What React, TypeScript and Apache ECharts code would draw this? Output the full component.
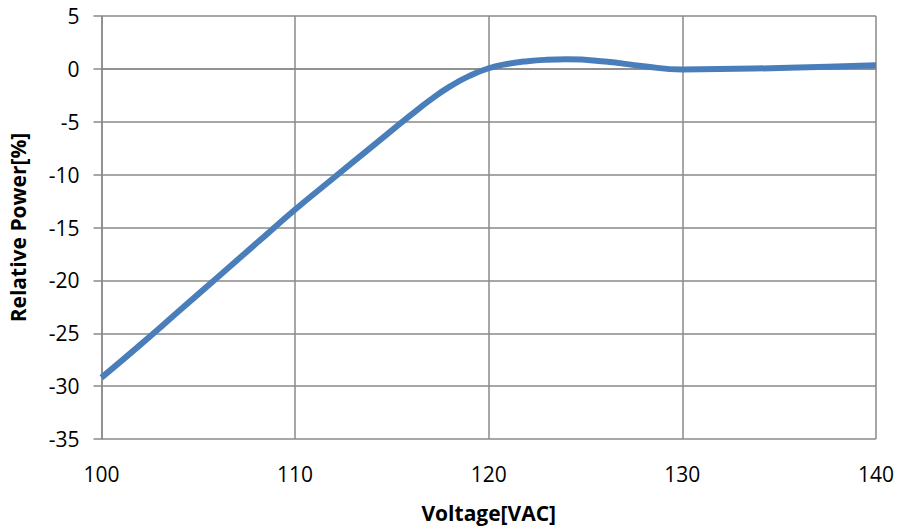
import React, { useEffect, useRef } from "react";
import * as echarts from "echarts";

const voltages = [100, 102, 104, 106, 108, 110, 112, 114, 116, 117, 118, 119, 120, 121, 122, 123, 124, 126, 128, 130, 135, 140];
const relativePower = [-29.2, -26.1, -22.9, -19.7, -16.5, -13.3, -10.3, -7.3, -4.33, -2.91, -1.66, -0.66, 0.06, 0.48, 0.73, 0.86, 0.9, 0.7, 0.25, -0.05, 0.08, 0.35];

const xTitle = "Voltage[VAC]";
const yTitle = "Relative Power[%]";

export default function App() {
  const ref = useRef<HTMLDivElement>(null);
  useEffect(() => {
    document.body.style.margin = "0";
    const chart = echarts.init(ref.current!, null, { renderer: "svg" });
    const gridColor = "#8a8a8a";
    const font = "'Open Sans', 'Liberation Sans', sans-serif";
    chart.setOption({
      animation: false,
      backgroundColor: "#ffffff",
      grid: { left: 101.5, right: 21, top: 16, bottom: 92, containLabel: false, outerBoundsMode: "none" },
      xAxis: {
        type: "value",
        min: 100,
        max: 140,
        interval: 10,
        name: xTitle,
        nameLocation: "middle",
        nameGap: 63,
        nameTextStyle: { fontFamily: font, fontSize: 21, fontWeight: "bold", color: "#000" },
        axisLine: { show: true, lineStyle: { color: gridColor, width: 1.5 } },
        axisTick: { show: false },
        axisLabel: { fontFamily: font, fontSize: 21, color: "#000", margin: 24 },
        splitLine: { show: true, lineStyle: { color: gridColor, width: 1.5 } },
      },
      yAxis: {
        type: "value",
        min: -35,
        max: 5,
        interval: 5,
        name: yTitle,
        nameLocation: "middle",
        nameGap: 73,
        nameRotate: 90,
        nameTextStyle: { fontFamily: font, fontSize: 21, fontWeight: "bold", color: "#000" },
        axisLine: { show: true, lineStyle: { color: gridColor, width: 1.5 } },
        axisTick: { show: true, length: 8, lineStyle: { color: gridColor, width: 1.5 } },
        axisLabel: { fontFamily: font, fontSize: 21, color: "#000", margin: 22 },
        splitLine: { show: true, lineStyle: { color: gridColor, width: 1.5 } },
      },
      series: [
        {
          type: "line",
          data: voltages.map((v, i) => [v, relativePower[i]]),
          smooth: 0.5,
          showSymbol: false,
          symbol: "none",
          lineStyle: { color: "#4a7ebb", width: 6 },
        },
      ],
    });
    return () => chart.dispose();
  }, []);
  return <div ref={ref} style={{ width: 897, height: 531 }} />;
}
